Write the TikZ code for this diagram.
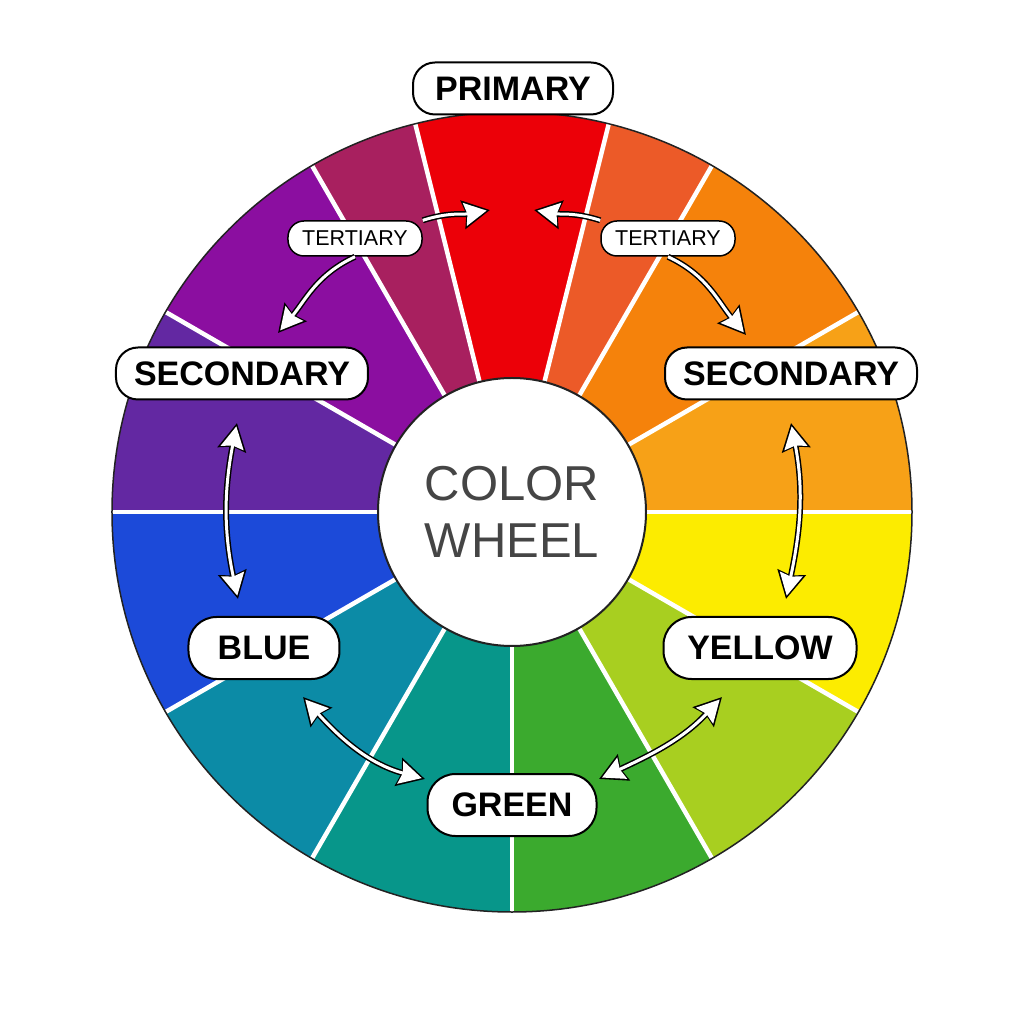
\documentclass[tikz,border=0pt]{standalone}
\usepackage{fontspec}
\setmainfont{Liberation Sans}
\usepackage{tkz-euclide}
\usetikzlibrary{arrows.meta}

\definecolor{ambar}{HTML}{F7A117}
\definecolor{naranja}{HTML}{F5820B}
\definecolor{rojonaranja}{HTML}{EC5A28}
\definecolor{rojo}{HTML}{EC0008}
\definecolor{vino}{HTML}{A8205F}
\definecolor{purpura}{HTML}{8B0EA0}
\definecolor{violeta}{HTML}{6328A2}
\definecolor{azulrey}{HTML}{1C4AD9}
\definecolor{azulverde}{HTML}{0C8BA6}
\definecolor{turquesa}{HTML}{07968A}
\definecolor{verdehoja}{HTML}{3BAA2E}
\definecolor{lima}{HTML}{A8CF20}
\definecolor{amarillo}{HTML}{FCEC00}
\definecolor{oscuro}{HTML}{222222}
\definecolor{gristexto}{HTML}{454545}

\tikzset{
  etiqueta/.style={draw=black, line width=2pt, fill=white, rounded corners=22pt,
    minimum height=52pt, inner xsep=8pt, font=\bfseries\fontsize{34}{40}\selectfont},
  etiquetaG/.style={etiqueta, rounded corners=28pt, minimum height=62pt},
  chica/.style={draw=black, line width=1.5pt, fill=white, rounded corners=16pt,
    minimum height=35pt, minimum width=134pt, inner xsep=6pt,
    font=\fontsize{21.5}{25}\selectfont},
  centro/.style={circle, draw=oscuro, line width=2pt, fill=white, minimum size=268pt,
    inner sep=0pt, align=center, text=gristexto, font=\fontsize{49}{57}\selectfont},
  separador/.style={white, line width=4.5pt},
  contorno/.style={draw=oscuro, line width=1.5pt},
  flecha/.style={white, line width=3pt, shorten >=3.4pt,
    -{Stealth[length=22pt, width=23pt, inset=2.5pt]},
    preaction={draw=black, line width=6pt, shorten >=0pt,
      -{Stealth[length=27pt, width=28pt, inset=3pt]}}},
  flechas/.style={white, line width=3pt, shorten >=3.4pt, shorten <=3.4pt,
    {Stealth[length=22pt, width=23pt, inset=2.5pt]}-{Stealth[length=22pt, width=23pt, inset=2.5pt]},
    preaction={draw=black, line width=6pt, shorten >=0pt, shorten <=0pt,
      {Stealth[length=27pt, width=28pt, inset=3pt]}-{Stealth[length=27pt, width=28pt, inset=3pt]}}}
}

\begin{document}
\begin{tikzpicture}[x=1pt, y=1pt]
    % Fondo blanco y marco del dibujo.
    \path[use as bounding box, fill=white] (-512,-512) rectangle (512,512);

    % Define el centro O de la rueda.
    \tkzDefPoint(0,0){O}

    % Sectores de color (ángulo inicial / ángulo final / color).
    \foreach \a/\b/\c in {0/30/ambar, 30/60/naranja, 60/76/rojonaranja, 76/104/rojo,
        104/120/vino, 120/150/purpura, 150/180/violeta, 180/210/azulrey,
        210/240/azulverde, 240/270/turquesa, 270/300/verdehoja, 300/330/lima,
        330/360/amarillo}
      \fill[\c] (O) -- (\a:400) arc[start angle=\a, end angle=\b, radius=400pt] -- cycle;

    % Líneas blancas entre sectores y borde exterior.
    \foreach \a in {0,30,60,76,104,120,150,180,210,240,270,300,330}
      \draw[separador] (\a:120) -- (\a:400);
    \draw[contorno] (O) circle[radius=400pt];

    % Círculo central con el título.
    \node[centro] (rueda) at (O) {COLOR\\WHEEL};

    % Etiquetas de los colores.
    \node[etiqueta, minimum width=200pt] (prim) at (1,423.5) {PRIMARY};
    \node[chica] (terI) at (-157,273.5) {TERTIARY};
    \node[chica] (terD) at (156,273.5) {TERTIARY};
    \node[etiqueta, minimum width=252pt] (secI) at (-270,138.5) {SECONDARY};
    \node[etiqueta, minimum width=252pt] (secD) at (279,138.5) {SECONDARY};
    \node[etiquetaG, minimum width=151pt] (azul) at (-248,-136) {BLUE};
    \node[etiquetaG, minimum width=193pt] (amar) at (248,-136) {YELLOW};
    \node[etiquetaG, minimum width=169pt] (verde) at (0,-293) {GREEN};

    % Puntas de las flechas.
    \tkzDefPoint(-22,302){rI}
    \tkzDefPoint(22,302){rD}
    \tkzDefPoint(-234,179){sI}
    \tkzDefPoint(234,177){sD}
    \tkzDefPoint(-275,89){sIb}
    \tkzDefPoint(-274,-87){azT}
    \tkzDefPoint(279,89){sDb}
    \tkzDefPoint(274,-87){amT}
    \tkzDefPoint(-209,-185){azB}
    \tkzDefPoint(-87,-267){veI}
    \tkzDefPoint(87,-267){veD}
    \tkzDefPoint(210,-185){amB}

    % Flechas desde las etiquetas terciarias.
    \draw[flecha] (terI.15) to[out=18, in=190] (rI);
    \draw[flecha] (terI.south) to[out=205, in=50] (sI);
    \draw[flecha] (terD.165) to[out=162, in=-10] (rD);
    \draw[flecha] (terD.south) to[out=-25, in=130] (sD);

    % Flechas dobles entre secundarios y primarios.
    \draw[flechas] (sIb) to[out=259, in=102] (azT);
    \draw[flechas] (sDb) to[out=281, in=78] (amT);
    \draw[flechas] (azB) to[out=-48, in=165] (veI);
    \draw[flechas] (veD) to[out=25, in=227] (amB);
\end{tikzpicture}
\end{document}
